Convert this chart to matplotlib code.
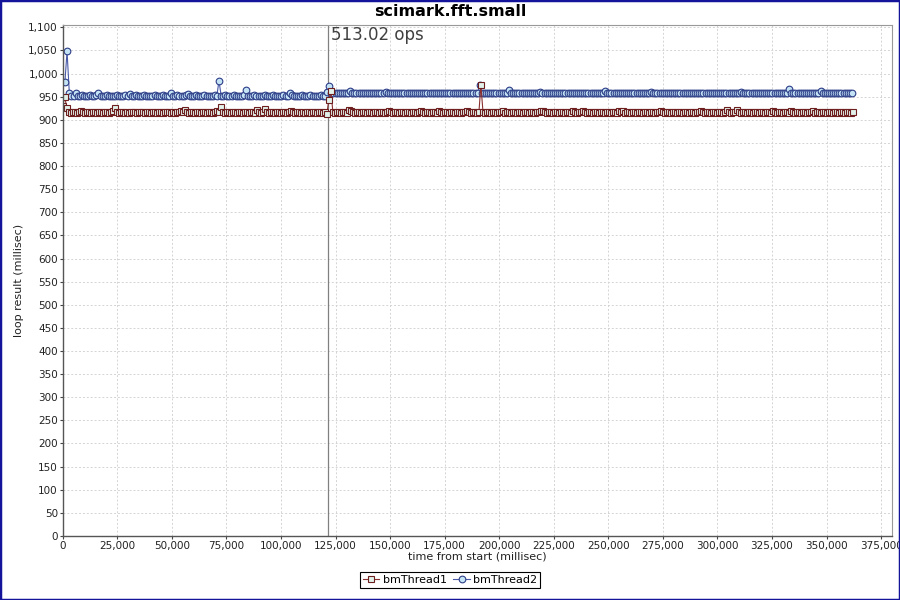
import numpy as np
import matplotlib
matplotlib.use("Agg")
import matplotlib.pyplot as plt
from matplotlib.patches import Rectangle
from matplotlib.ticker import MultipleLocator, FuncFormatter

# loop durations (millisec), one per iteration
thread1_ms = [
    930, 950, 925, 916, 915, 917, 916, 915, 916, 918, 916, 915, 917, 916, 915, 916, 917, 915, 916, 916,
    915, 917, 916, 915, 916, 918, 925, 916, 915, 916, 917, 915, 916, 915, 916, 917, 916, 915, 916, 917,
    916, 915, 916, 917, 915, 916, 916, 915, 917, 916, 915, 916, 917, 916, 915, 916, 915, 917, 916, 920,
    916, 922, 916, 915, 916, 917, 915, 916, 916, 915, 917, 916, 915, 916, 917, 915, 916, 920, 916, 928,
    916, 915, 917, 916, 915, 916, 917, 915, 916, 916, 915, 917, 916, 915, 916, 917, 915, 921, 916, 915,
    916, 924, 916, 915, 917, 916, 915, 916, 917, 915, 916, 916, 915, 917, 918, 916, 915, 916, 917, 915,
    916, 915, 916, 917, 915, 916, 916, 915, 917, 916, 915, 916, 913, 942, 962, 916, 915, 917, 916, 915,
    916, 917, 915, 921, 920, 916, 915, 917, 916, 915, 916, 917, 915, 916, 916, 915, 917, 916, 915, 916,
    917, 915, 916, 919, 916, 915, 917, 916, 915, 916, 917, 915, 916, 916, 915, 917, 916, 915, 916, 919,
    916, 915, 917, 916, 915, 916, 917, 915, 920, 916, 915, 917, 916, 915, 916, 917, 915, 916, 916, 915,
    917, 916, 919, 916, 915, 916, 917, 915, 916, 975, 916, 915, 917, 916, 915, 916, 917, 915, 916, 916,
    920, 915, 917, 916, 915, 916, 917, 915, 916, 916, 915, 917, 916, 915, 916, 917, 915, 916, 916, 920,
    920, 916, 915, 917, 916, 915, 916, 917, 915, 916, 916, 915, 917, 916, 915, 919, 916, 915, 917, 916,
    920, 916, 915, 917, 916, 915, 916, 917, 915, 916, 916, 915, 917, 916, 915, 916, 917, 915, 920, 916,
    920, 915, 917, 916, 915, 916, 917, 915, 916, 916, 915, 917, 916, 915, 916, 917, 915, 916, 916, 918,
    916, 915, 917, 916, 915, 916, 917, 915, 916, 916, 915, 917, 916, 915, 916, 917, 915, 916, 916, 919,
    916, 915, 917, 916, 915, 916, 917, 915, 916, 916, 915, 917, 921, 916, 915, 916, 917, 922, 916, 915,
    916, 917, 915, 916, 916, 915, 917, 916, 915, 916, 917, 915, 916, 916, 915, 920, 916, 915, 917, 916,
    915, 916, 917, 915, 918, 916, 915, 917, 916, 915, 916, 917, 915, 916, 916, 920, 915, 917, 916, 915,
    916, 917, 915, 916, 916, 915, 917, 916, 915, 916, 917, 915, 916, 916, 915, 917,
]
thread2_ms = [
    982, 1048, 957, 952, 951, 957, 952, 951, 953, 952, 951, 952, 953, 951, 952, 953, 958, 952, 951, 952,
    953, 951, 952, 952, 951, 953, 952, 951, 952, 953, 951, 956, 952, 951, 953, 952, 951, 952, 953, 951,
    952, 952, 951, 953, 952, 951, 952, 953, 951, 952, 952, 957, 952, 951, 953, 952, 951, 952, 953, 956,
    952, 952, 951, 953, 952, 951, 952, 953, 951, 952, 952, 951, 953, 952, 985, 952, 951, 953, 952, 951,
    952, 953, 951, 952, 952, 951, 953, 965, 952, 951, 952, 953, 951, 952, 952, 951, 953, 952, 951, 952,
    953, 951, 952, 952, 951, 953, 952, 951, 958, 953, 951, 952, 952, 951, 953, 952, 951, 952, 953, 951,
    952, 952, 951, 953, 952, 951, 960, 973, 958, 957, 958, 957, 958, 959, 957, 958, 957, 962, 958, 957,
    958, 957, 959, 958, 957, 958, 957, 958, 959, 957, 958, 957, 958, 957, 960, 958, 957, 958, 959, 957,
    958, 957, 958, 957, 959, 958, 957, 958, 957, 958, 959, 957, 958, 957, 958, 957, 959, 958, 957, 958,
    957, 958, 959, 957, 958, 957, 958, 957, 959, 958, 957, 958, 957, 958, 959, 957, 958, 957, 958, 975,
    957, 958, 959, 957, 958, 957, 958, 957, 959, 958, 957, 958, 957, 965, 959, 957, 958, 957, 958, 957,
    959, 958, 957, 958, 957, 958, 959, 957, 961, 957, 958, 957, 959, 958, 957, 958, 957, 958, 959, 957,
    958, 957, 958, 957, 959, 958, 957, 958, 957, 958, 959, 957, 958, 957, 958, 957, 959, 958, 957, 962,
    957, 958, 959, 957, 958, 957, 958, 957, 959, 958, 957, 958, 957, 958, 959, 957, 958, 957, 958, 957,
    959, 960, 957, 958, 957, 958, 959, 957, 958, 957, 958, 957, 959, 958, 957, 958, 957, 958, 959, 957,
    958, 957, 958, 957, 959, 958, 957, 958, 957, 958, 959, 957, 958, 957, 958, 957, 959, 958, 957, 958,
    957, 958, 959, 957, 961, 958, 957, 958, 957, 958, 959, 957, 958, 957, 958, 957, 959, 958, 957, 958,
    957, 958, 959, 957, 958, 957, 958, 966, 959, 958, 957, 958, 957, 958, 959, 957, 958, 957, 958, 957,
    959, 958, 962, 958, 957, 958, 959, 957, 958, 957, 958, 957, 959, 958, 957, 958, 957, 958,
]
thread1_start = 0      # ms, first sample of each thread
thread2_start = 1000
marker_time = 121500   # vertical marker line
marker_text = "513.02 ops"
title = "scimark.fft.small"

# each sample sits at the time its loop started
t1 = thread1_start + np.concatenate([[0], np.cumsum(thread1_ms[:-1])])
t2 = thread2_start + np.concatenate([[0], np.cumsum(thread2_ms[:-1])])

plt.rcParams['font.family'] = ['DejaVu Sans']

fig = plt.figure(figsize=(9, 6), dpi=100)
ax = fig.add_axes([0.0697, 0.1067, 0.9214, 0.8516])

ax.plot(t2, thread2_ms, '-', color='#4a5aa8', linewidth=0.8, marker='o', markersize=4.8,
        markerfacecolor='#c4e4f6', markeredgecolor='#2e3e88', markeredgewidth=0.8, label='bmThread2')
ax.plot(t1, thread1_ms, '-', color='#8a3030', linewidth=0.8, marker='s', markersize=4.8,
        markerfacecolor='#e2f2ea', markeredgecolor='#6e1e1e', markeredgewidth=0.8, label='bmThread1')

ax.axvline(marker_time, color='#808080', linewidth=0.9, zorder=1)
ax.annotate(marker_text, xy=(marker_time, 1105), xytext=(2, -1), textcoords='offset points',
            ha='left', va='top', fontsize=12, color='#404040')

ax.set_xlim(0, 380000)
ax.set_ylim(0, 1105)
ax.xaxis.set_major_locator(MultipleLocator(25000))
ax.yaxis.set_major_locator(MultipleLocator(50))
fmt = FuncFormatter(lambda v, p: '{:,.0f}'.format(v))
ax.xaxis.set_major_formatter(fmt)
ax.yaxis.set_major_formatter(fmt)
ax.tick_params(labelsize=7.5, length=2, width=0.8, colors='#444444', labelcolor='#222222', pad=1.5)

ax.grid(True, color='#d4d4d4', linestyle=(0, (2, 2)), linewidth=0.7)
ax.set_axisbelow(True)
for side in ['top', 'right']:
    ax.spines[side].set_color('#999999')
    ax.spines[side].set_linewidth(0.8)
for side in ['left', 'bottom']:
    ax.spines[side].set_color('#555555')
    ax.spines[side].set_linewidth(1.0)

ax.set_ylabel('loop result (millisec)', fontsize=8, color='#222222')
ax.set_xlabel('time from start (millisec)', fontsize=8, color='#222222')
ax.yaxis.set_label_coords(-0.047, 0.5)
ax.xaxis.set_label_coords(0.5, -0.030)
ax.xaxis.label.set_va('top')

fig.text(0.5, 0.98, title, ha='center', va='center', fontsize=11.5, fontweight='bold')

h, l = ax.get_legend_handles_labels()
leg = fig.legend(h[::-1], l[::-1], loc='center', bbox_to_anchor=(0.5, 0.0333), ncol=2,
                 fontsize=8, frameon=True, fancybox=False, edgecolor='black', framealpha=1,
                 handlelength=1.5, handletextpad=0.3, columnspacing=0.6, borderpad=0.25)
leg.get_frame().set_linewidth(0.8)

fig.add_artist(Rectangle((0, 0), 1, 1, transform=fig.transFigure, fill=False,
                         edgecolor='#14149a', linewidth=2.5))

fig.savefig('out.png', dpi=100)
